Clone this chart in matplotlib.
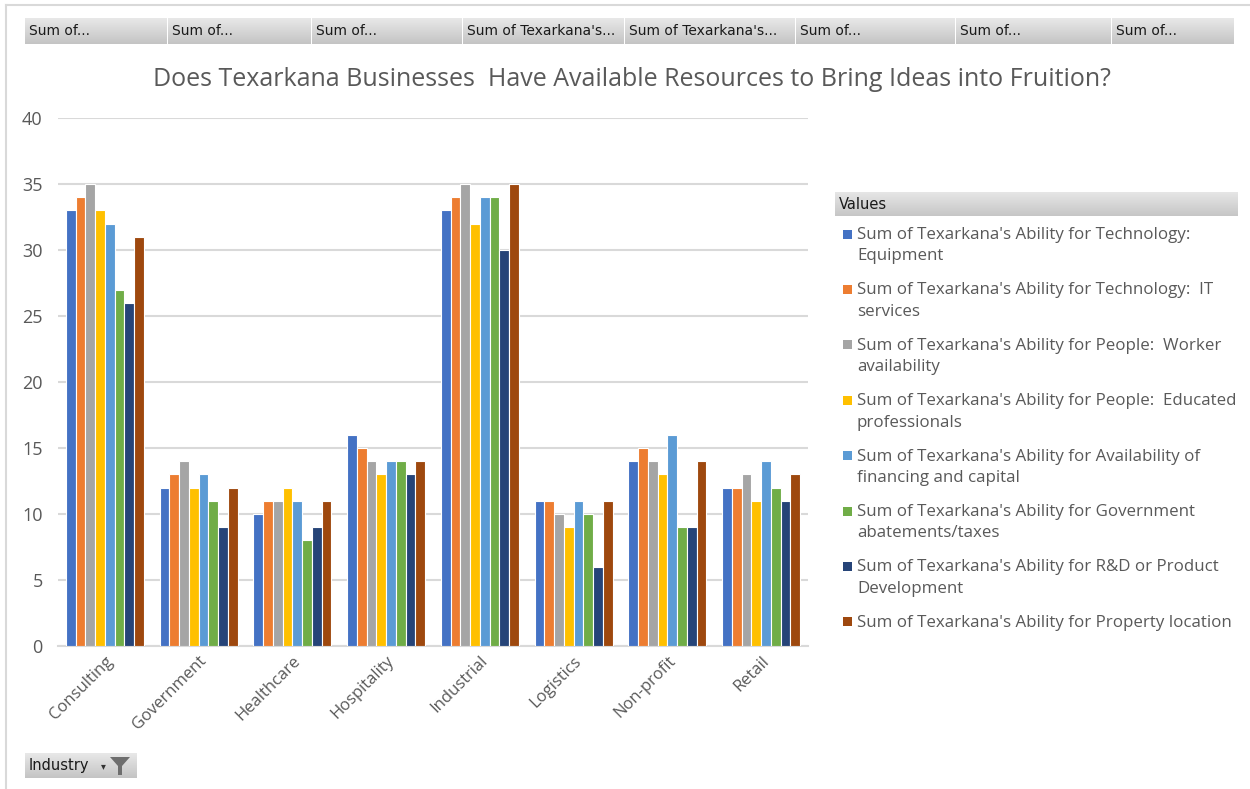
import numpy as np
import matplotlib
matplotlib.use("Agg")
import matplotlib.pyplot as plt
from matplotlib.patches import Rectangle

industries = ["Consulting", "Government", "Healthcare", "Hospitality",
              "Industrial", "Logistics", "Non-profit", "Retail"]

series_names = [
    "Sum of Texarkana's Ability for Technology:\nEquipment",
    "Sum of Texarkana's Ability for Technology:  IT\nservices",
    "Sum of Texarkana's Ability for People:  Worker\navailability",
    "Sum of Texarkana's Ability for People:  Educated\nprofessionals",
    "Sum of Texarkana's Ability for Availability of\nfinancing and capital",
    "Sum of Texarkana's Ability for Government\nabatements/taxes",
    "Sum of Texarkana's Ability for R&D or Product\nDevelopment",
    "Sum of Texarkana's Ability for Property location",
]

tech_equipment = [33, 12, 10, 16, 33, 11, 14, 12]
tech_it = [34, 13, 11, 15, 34, 11, 15, 12]
people_workers = [35, 14, 11, 14, 35, 10, 14, 13]
people_educated = [33, 12, 12, 13, 32, 9, 13, 11]
financing = [32, 13, 11, 14, 34, 11, 16, 14]
gov_abatements = [27, 11, 8, 14, 34, 10, 9, 12]
rnd = [26, 9, 9, 13, 30, 6, 9, 11]
property_location = [31, 12, 11, 14, 35, 11, 14, 13]

series_values = [tech_equipment, tech_it, people_workers, people_educated,
                 financing, gov_abatements, rnd, property_location]

colors = ["#4472C4", "#ED7D31", "#A5A5A5", "#FFC000",
          "#5B9BD5", "#70AD47", "#264478", "#9E480E"]

field_buttons = ["Sum of...", "Sum of...", "Sum of...", "Sum of Texarkana's...",
                 "Sum of Texarkana's...", "Sum of...", "Sum of...", "Sum of..."]

W, H = 1250, 789
fig = plt.figure(figsize=(W / 100, H / 100), dpi=100)
fig.patch.set_facecolor("white")

# Chart area in pixel terms
px_left, px_right, px_top, px_bottom = 58, 808, 118, 646
ax = fig.add_axes([px_left / W, 1 - px_bottom / H,
                   (px_right - px_left) / W, (px_bottom - px_top) / H])

n_cat = len(industries)
n_ser = len(series_values)
x = np.arange(n_cat)
group_width = 0.83
slot = group_width / n_ser
for i, (vals, col) in enumerate(zip(series_values, colors)):
    offs = -group_width / 2 + slot * (i + 0.5)
    ax.bar(x + offs, vals, width=slot, color=col, edgecolor="white",
           linewidth=0.8, zorder=3)

ax.set_xlim(-0.5, n_cat - 0.5)
ax.set_ylim(0, 40)
ax.set_yticks(range(0, 41, 5))
ax.yaxis.grid(True, color="#D9D9D9", linewidth=1.5, zorder=0)
ax.set_axisbelow(True)
for s in ["top", "right", "left"]:
    ax.spines[s].set_visible(False)
ax.spines["bottom"].set_color("#D9D9D9")
ax.spines["bottom"].set_linewidth(1.5)
ax.tick_params(axis="both", length=0, colors="#595959", labelsize=13)
ax.tick_params(axis="y", pad=11)
ax.tick_params(axis="x", pad=5)
ax.set_xticks(x)
ax.set_xticklabels(industries, rotation=45, ha="right", rotation_mode="anchor",
                   fontfamily="Open Sans", fontsize=12, color="#595959")
for lab in ax.get_yticklabels():
    lab.set_fontfamily("Open Sans")
ax.set_facecolor("white")

# Overlays in pixel coordinates for title, buttons, legend and frame
ov = fig.add_axes([0, 0, 1, 1], zorder=-1)
ov.set_xlim(0, W)
ov.set_ylim(H, 0)
ov.axis("off")
ov2 = fig.add_axes([0, 0, 1, 1], zorder=5)
ov2.set_xlim(0, W)
ov2.set_ylim(H, 0)
ov2.axis("off")
ov2.patch.set_alpha(0)

# Outer frame lines
ov.plot([6, W], [5, 5], color="#D9D9D9", linewidth=1.5)
ov.plot([6, 6], [5, H], color="#D9D9D9", linewidth=1.5)

grad = np.linspace(0, 1, 50).reshape(-1, 1)


def gradient_box(a, x0, y0, x1, y1, top="#E8E8E8", bottom="#C4C4C4"):
    c0 = np.array(matplotlib.colors.to_rgb(top))
    c1 = np.array(matplotlib.colors.to_rgb(bottom))
    img = c0[None, None, :] * (1 - grad[:, :, None]) + c1[None, None, :] * grad[:, :, None]
    a.imshow(img, extent=(x0, x1, y1, y0), aspect="auto", zorder=1,
             interpolation="bilinear")


# Field buttons along the top
edges = [25, 168, 312, 463, 625, 796, 956, 1112, 1235]
for i, label in enumerate(field_buttons):
    x0, x1 = edges[i], edges[i + 1] - 1
    gradient_box(ov2, x0, 18, x1, 44)
    ov2.text(x0 + 4, 31, label, fontsize=10, fontfamily="DejaVu Sans",
             va="center", ha="left", color="#1A1A1A", zorder=2)

# Title
ov2.text(632, 79, "Does Texarkana Businesses  Have Available Resources to Bring Ideas into Fruition?",
         fontsize=18, fontfamily="Open Sans", color="#595959", ha="center", va="center")

# Legend
gradient_box(ov2, 835, 192, 1238, 216, top="#E6E6E6", bottom="#C6C6C6")
ov2.text(839, 204, "Values", fontsize=10.5, fontfamily="DejaVu Sans",
         va="center", ha="left", color="#1A1A1A", zorder=2)
entry_y0 = 234
entry_step = 55.4
for i, (name, col) in enumerate(zip(series_names, colors)):
    yy = entry_y0 + i * entry_step
    ov2.add_patch(Rectangle((843, yy - 4.5), 9, 9, facecolor=col, edgecolor="none"))
    ov2.text(857, yy - 7, name, fontsize=12.2, fontfamily="Open Sans", color="#595959",
             va="top", ha="left", linespacing=1.45)

# Industry filter button
gradient_box(ov2, 25, 753, 137, 778)
ov2.text(29, 765.5, "Industry", fontsize=10.5, fontfamily="DejaVu Sans",
         va="center", ha="left", color="#1A1A1A", zorder=2)
ov2.text(103, 766, "\u25be", fontsize=7, color="#333333", va="center", ha="center", zorder=2)
ov2.add_patch(plt.Polygon([[110, 757], [130, 757], [122, 766], [122, 775], [118, 775], [118, 766]],
                          closed=True, facecolor="#6E6E6E", edgecolor="none", zorder=2))

fig.savefig("out.png", dpi=100, facecolor="white")
